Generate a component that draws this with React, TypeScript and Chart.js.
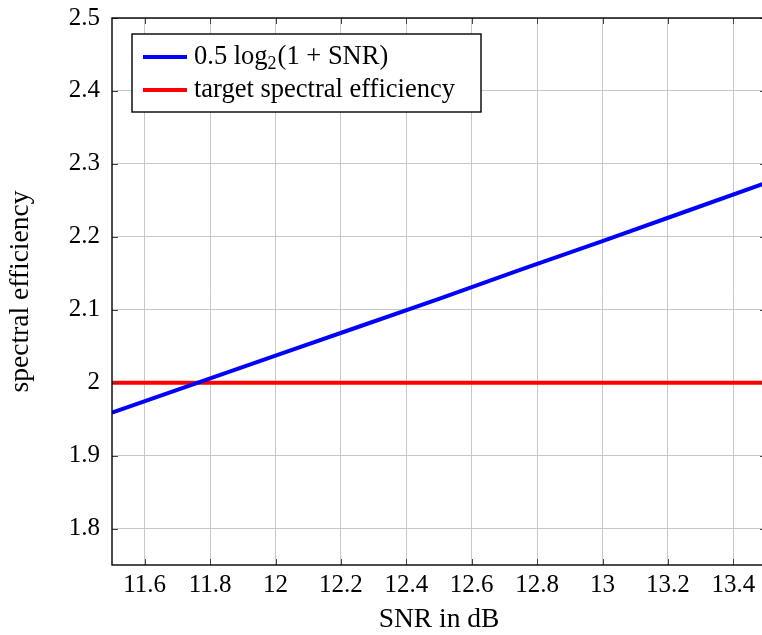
import React, { useEffect, useRef } from "react";
import { Chart, registerables } from "chart.js";

Chart.register(...registerables);

// ---- data ----
const snrDb = [11.5, 11.75, 12, 12.25, 12.5, 12.75, 13, 13.25, 13.5];
const capacity = [1.959, 1.998, 2.037, 2.076, 2.115, 2.155, 2.194, 2.234, 2.274];
const targetX = [11.5, 13.5];
const targetY = [2, 2];
const xTicks = [11.6, 11.8, 12, 12.2, 12.4, 12.6, 12.8, 13, 13.2, 13.4];
const yTicks = [1.8, 1.9, 2, 2.1, 2.2, 2.3, 2.4, 2.5];
const seriesLabels = ["0.5 log₂(1 + SNR)", "target spectral efficiency"];
const seriesColors = ["#0000ff", "#ff0000"];
const xTitle = "SNR in dB";
const yTitle = "spectral efficiency";

const FONT = '"Liberation Serif", "Times New Roman", serif';

const framePlugin = {
  id: "pgfFrame",
  afterDatasetsDraw(chart: any) {
    const { ctx, chartArea: a, scales } = chart;
    ctx.save();
    ctx.strokeStyle = "#444";
    ctx.lineWidth = 1;
    const tl = 6;
    ctx.beginPath();
    for (const v of xTicks) {
      const px = Math.round(scales.x.getPixelForValue(v)) + 0.5;
      ctx.moveTo(px, a.bottom);
      ctx.lineTo(px, a.bottom - tl);
      ctx.moveTo(px, a.top);
      ctx.lineTo(px, a.top + tl);
    }
    for (const v of yTicks) {
      const py = Math.round(scales.y.getPixelForValue(v)) + 0.5;
      ctx.moveTo(a.left, py);
      ctx.lineTo(a.left + tl, py);
      ctx.moveTo(a.right, py);
      ctx.lineTo(a.right - tl, py);
    }
    ctx.stroke();
    ctx.strokeStyle = "#000";
    ctx.lineWidth = 1.4;
    ctx.strokeRect(a.left, a.top, a.right - a.left, a.bottom - a.top);
    ctx.restore();
  },
};

const legendPlugin = {
  id: "pgfLegend",
  afterDraw(chart: any) {
    const { ctx, chartArea: a } = chart;
    const x0 = a.left + 20;
    const y0 = a.top + 16;
    const w = 349;
    const h = 78;
    ctx.save();
    ctx.fillStyle = "#fff";
    ctx.fillRect(x0, y0, w, h);
    ctx.strokeStyle = "#000";
    ctx.lineWidth = 1.4;
    ctx.strokeRect(x0, y0, w, h);
    const rows = [y0 + 23, y0 + 56];
    const fs = 26.5;
    chart.data.datasets.forEach((ds: any, i: number) => {
      const y = rows[i];
      ctx.strokeStyle = ds.borderColor;
      ctx.lineWidth = 4;
      ctx.beginPath();
      ctx.moveTo(x0 + 11, y);
      ctx.lineTo(x0 + 55, y);
      ctx.stroke();
      ctx.fillStyle = "#000";
      ctx.textBaseline = "middle";
      ctx.textAlign = "left";
      let tx = x0 + 62;
      const label: string = ds.label;
      const parts = label.split("₂");
      ctx.font = `${fs}px ${FONT}`;
      if (parts.length === 2) {
        ctx.fillText(parts[0], tx, y);
        tx += ctx.measureText(parts[0]).width;
        ctx.font = `18px ${FONT}`;
        ctx.fillText("2", tx, y + 7);
        tx += ctx.measureText("2").width + 1;
        ctx.font = `${fs}px ${FONT}`;
        ctx.fillText(parts[1], tx, y);
      } else {
        ctx.fillText(label, tx, y);
      }
    });
    ctx.restore();
  },
};

const fmt = (v: any) => String(+Number(v).toFixed(2));

export default function App() {
  const ref = useRef<HTMLCanvasElement | null>(null);

  useEffect(() => {
    if (!ref.current) return;
    Chart.defaults.font.family = FONT;
    Chart.defaults.color = "#000";
    const chart = new Chart(ref.current, {
      type: "line",
      data: {
        datasets: [
          {
            label: seriesLabels[0],
            data: snrDb.map((x, i) => ({ x, y: capacity[i] })),
            borderColor: seriesColors[0],
            backgroundColor: seriesColors[0],
            borderWidth: 4,
            pointRadius: 0,
            tension: 0,
            fill: false,
          },
          {
            label: seriesLabels[1],
            data: targetX.map((x, i) => ({ x, y: targetY[i] })),
            borderColor: seriesColors[1],
            backgroundColor: seriesColors[1],
            borderWidth: 4,
            pointRadius: 0,
            tension: 0,
            fill: false,
          },
        ],
      },
      options: {
        responsive: false,
        animation: false,
        devicePixelRatio: 1,
        events: [],
        layout: { padding: { top: 18, right: 0, left: 0, bottom: 0 } },
        plugins: {
          legend: { display: false },
          tooltip: { enabled: false },
        },
        scales: {
          x: {
            type: "linear",
            min: 11.5,
            max: 13.5,
            afterBuildTicks: (s: any) => {
              s.ticks = xTicks.map((v) => ({ value: v }));
            },
            afterFit: (s: any) => {
              s.height = 70;
              s.paddingLeft = 0;
              s.paddingRight = 0;
            },
            grid: { color: "#c8c8c8", lineWidth: 1, drawTicks: false },
            border: { display: false },
            ticks: {
              font: { size: 25 },
              color: "#000",
              padding: 5,
              maxRotation: 0,
              autoSkip: false,
              callback: fmt,
            },
            title: {
              display: true,
              text: xTitle,
              color: "#000",
              font: { size: 27.5, lineHeight: 1 },
              padding: { top: 0, bottom: 1 },
            },
          },
          y: {
            type: "linear",
            min: 1.75,
            max: 2.5,
            afterBuildTicks: (s: any) => {
              s.ticks = yTicks.map((v) => ({ value: v }));
            },
            afterFit: (s: any) => {
              s.width = 112;
              s.paddingTop = 0;
              s.paddingBottom = 0;
            },
            grid: { color: "#c8c8c8", lineWidth: 1, drawTicks: false },
            border: { display: false },
            ticks: {
              font: { size: 25 },
              color: "#000",
              padding: 12,
              autoSkip: false,
              callback: fmt,
            },
            title: {
              display: true,
              text: yTitle,
              color: "#000",
              font: { size: 27.5, lineHeight: 1 },
              padding: { top: 7, bottom: 0 },
            },
          },
        },
      },
      plugins: [framePlugin, legendPlugin],
    } as any);
    return () => chart.destroy();
  }, []);

  return (
    <div
      style={{
        position: "fixed",
        left: 0,
        top: 0,
        width: 762,
        height: 635,
        overflow: "hidden",
        background: "#fff",
      }}
    >
      <canvas
        ref={ref}
        width={766}
        height={635}
        style={{ display: "block", width: 766, height: 635 }}
      />
    </div>
  );
}
